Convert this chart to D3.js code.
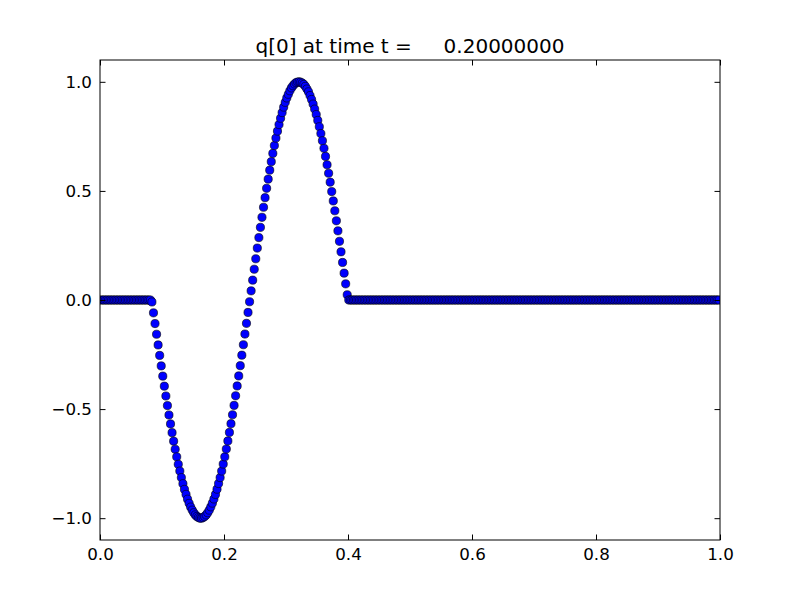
<!DOCTYPE html>
<html><head><meta charset="utf-8">
<script src="https://cdn.jsdelivr.net/npm/d3@7"></script>
<style>body{margin:0;background:#fff}svg{display:block}</style>
</head><body>
<script>
const titleText = "q[0] at time t =     0.20000000";
const xTicks = [0.0, 0.2, 0.4, 0.6, 0.8, 1.0];
const yTicks = [-1.0, -0.5, 0.0, 0.5, 1.0];
const nCells = 400;
// q values at the 400 cell centres
const qValues = [
 0,0,0,0,0,0,0,0,0,0,0,0,0,0,0,0,0,0,0,0,
 0,0,0,0,0,0,0,0,0,0,0,0,0,
 -0.009,-0.059,-0.108,-0.157,-0.206,-0.254,-0.302,-0.349,-0.395,-0.440,
 -0.484,-0.527,-0.568,-0.608,-0.647,-0.684,-0.719,-0.753,-0.784,-0.814,
 -0.842,-0.868,-0.891,-0.913,-0.932,-0.949,-0.963,-0.975,-0.985,-0.992,
 -0.997,-1.000,-1.000,-0.997,-0.992,-0.985,-0.975,-0.963,-0.948,-0.931,
 -0.912,-0.891,-0.867,-0.841,-0.814,-0.784,-0.752,-0.719,-0.683,-0.646,
 -0.607,-0.567,-0.526,-0.483,-0.439,-0.394,-0.348,-0.301,-0.253,-0.205,
 -0.156,-0.107,-0.057,-0.008,
 0.042,0.091,0.141,0.189,0.238,0.286,0.333,0.379,0.425,0.469,
 0.512,0.554,0.595,0.634,0.672,0.708,0.742,0.774,0.804,0.833,
 0.859,0.884,0.906,0.926,0.943,0.959,0.972,0.982,0.990,0.996,
 0.999,1.000,0.998,0.994,0.988,0.979,0.967,0.954,0.937,0.919,
 0.898,0.875,0.850,0.823,0.794,0.763,0.730,0.695,0.658,0.620,
 0.581,0.540,0.497,0.454,0.409,0.363,0.317,0.269,0.221,0.172,
 0.123,0.074,0.024,
 0,0,0,0,0,0,0,0,0,0,0,0,0,0,0,0,0,0,0,0,
 0,0,0,0,0,0,0,0,0,0,0,0,0,0,0,0,0,0,0,0,
 0,0,0,0,0,0,0,0,0,0,0,0,0,0,0,0,0,0,0,0,
 0,0,0,0,0,0,0,0,0,0,0,0,0,0,0,0,0,0,0,0,
 0,0,0,0,0,0,0,0,0,0,0,0,0,0,0,0,0,0,0,0,
 0,0,0,0,0,0,0,0,0,0,0,0,0,0,0,0,0,0,0,0,
 0,0,0,0,0,0,0,0,0,0,0,0,0,0,0,0,0,0,0,0,
 0,0,0,0,0,0,0,0,0,0,0,0,0,0,0,0,0,0,0,0,
 0,0,0,0,0,0,0,0,0,0,0,0,0,0,0,0,0,0,0,0,
 0,0,0,0,0,0,0,0,0,0,0,0,0,0,0,0,0,0,0,0,
 0,0,0,0,0,0,0,0,0,0,0,0,0,0,0,0,0,0,0,0,
 0,0,0,0,0,0,0,0,0,0,0,0,0,0,0,0,0,0,0,0
];
const xValues = qValues.map((_, i) => (i + 0.5) / nCells);

const W = 800, H = 600;
const m = {left: 100, right: 80, top: 60, bottom: 60};
const svg = d3.select("body").append("svg").attr("width", W).attr("height", H)
  .style("font-family", "'DejaVu Sans', sans-serif");
const x = d3.scaleLinear().domain([0, 1]).range([m.left, W - m.right]);
const y = d3.scaleLinear().domain([-1.1, 1.1]).range([H - m.bottom, m.top]);

svg.append("clipPath").attr("id", "c").append("rect")
  .attr("x", m.left).attr("y", m.top).attr("width", W - m.left - m.right).attr("height", H - m.top - m.bottom);

svg.append("g").attr("clip-path", "url(#c)").selectAll("circle").data(qValues).join("circle")
  .attr("cx", (d, i) => x(xValues[i])).attr("cy", d => y(d)).attr("r", 4.1)
  .attr("fill", "#0000ff").attr("stroke", "#000").attr("stroke-width", 0.6);

const tl = 5.5;
const fmt = d3.format(".1f");
const fmtY = d => fmt(d).replace("-", "\u2212");
const gx = svg.append("g").attr("transform", `translate(0,${H - m.bottom})`)
  .call(d3.axisBottom(x).tickValues(xTicks).tickFormat(fmt).tickSizeInner(-tl).tickSizeOuter(0).tickPadding(8));
const gxt = svg.append("g").attr("transform", `translate(0,${m.top})`)
  .call(d3.axisTop(x).tickValues(xTicks).tickFormat("").tickSizeInner(-tl).tickSizeOuter(0));
const gy = svg.append("g").attr("transform", `translate(${m.left},0)`)
  .call(d3.axisLeft(y).tickValues(yTicks).tickFormat(fmtY).tickSizeInner(-tl).tickSizeOuter(0).tickPadding(8));
const gyr = svg.append("g").attr("transform", `translate(${W - m.right},0)`)
  .call(d3.axisRight(y).tickValues(yTicks).tickFormat("").tickSizeInner(-tl).tickSizeOuter(0));
[gx, gxt, gy, gyr].forEach(g => {
  g.select(".domain").remove();
  g.selectAll("line").attr("stroke", "#000").attr("stroke-width", 1);
  g.selectAll("text").attr("fill", "#000").style("font-size", "16.7px").style("font-family", "'DejaVu Sans', sans-serif");
});
svg.append("rect").attr("x", m.left).attr("y", m.top)
  .attr("width", W - m.left - m.right).attr("height", H - m.top - m.bottom)
  .attr("fill", "none").attr("stroke", "#000").attr("stroke-width", 1);

svg.append("text").attr("x", (m.left + W - m.right) / 2).attr("y", 53)
  .attr("text-anchor", "middle").style("font-size", "20px").style("white-space", "pre")
  .attr("xml:space", "preserve").text(titleText);
</script>
</body></html>
